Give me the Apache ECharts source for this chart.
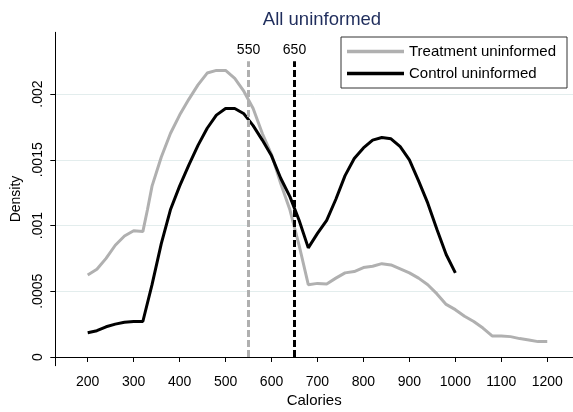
<!DOCTYPE html>
<html><head><meta charset="utf-8">
<script src="https://cdn.jsdelivr.net/npm/echarts@6/dist/echarts.min.js"></script>
<style>html,body{margin:0;padding:0;background:#fff}#c{width:573px;height:412px}</style>
</head><body><div id="c"></div>
<script>
const titleText = 'All uninformed';
const treatName = 'Treatment uninformed';
const controlName = 'Control uninformed';
const treatCal = [200,220,240,260,280,300,320,330,340,360,380,400,420,440,460,480,500,520,540,560,580,600,620,640,660,680,700,720,740,760,780,800,820,840,860,880,900,920,940,960,980,1000,1020,1040,1060,1080,1100,1120,1140,1160,1180,1200];
const treatDen = [0.000624,0.000667,0.00075,0.00085,0.00092,0.00096,0.000954,0.00112,0.0013,0.00152,0.0017,0.00184,0.00196,0.00207,0.00216,0.00218,0.00218,0.00212,0.00202,0.00189,0.0017,0.00154,0.00132,0.00112,0.00085,0.00055,0.00056,0.000556,0.0006,0.00064,0.00065,0.00068,0.00069,0.00071,0.0007,0.00067,0.00064,0.0006,0.00055,0.00048,0.0004,0.00036,0.00031,0.00027,0.00022,0.00016,0.00016,0.000155,0.00014,0.00013,0.000117,0.000117];
const controlCal = [200,220,240,260,280,300,320,340,360,380,400,420,440,460,480,500,520,540,560,580,600,620,640,660,680,700,720,740,760,780,800,820,840,860,880,900,920,940,960,980,1000];
const controlDen = [0.000185,0.0002,0.00023,0.00025,0.000265,0.00027,0.00027,0.00055,0.00086,0.00112,0.0013,0.00146,0.00161,0.00174,0.00184,0.00189,0.00189,0.00185,0.00176,0.00165,0.00153,0.00136,0.00122,0.00104,0.00083,0.00094,0.00104,0.0012,0.00138,0.00151,0.00159,0.00165,0.00167,0.00166,0.0016,0.0015,0.00134,0.00117,0.00097,0.00078,0.00064];
const xTicks = [200,300,400,500,600,700,800,900,1000,1100,1200];
const yTicks = [0,0.0005,0.001,0.0015,0.002];
const yTickLabels = ['0','.0005','.001','.0015','.002'];
const refLines = [550, 650];
const refTop = 0.00225;

const FONT = '"Liberation Sans", Arial, Helvetica, sans-serif';
const zip = (a, b) => a.map((v, i) => [v, b[i]]);
const chart = echarts.init(document.getElementById('c'), null, {renderer: 'canvas'});
const yLabelMap = {};
yTicks.forEach((v, i) => { yLabelMap[v.toFixed(6)] = yTickLabels[i]; });

chart.setOption({
  animation: false,
  backgroundColor: '#fff',
  title: {
    text: titleText, left: 317, top: 5, textAlign: 'center',
    textStyle: {fontFamily: FONT, fontSize: 18.5, fontWeight: 'normal', color: '#1f2d5c'}
  },
  legend: {
    orient: 'vertical', left: 341, top: 37,
    padding: [7, 11, 7, 6], itemGap: 7, itemWidth: 57, itemHeight: 3.5,
    icon: 'rect',
    borderColor: '#333', borderWidth: 1, backgroundColor: '#fff',
    textStyle: {fontFamily: FONT, fontSize: 15, color: '#000', lineHeight: 14},
    data: [treatName, controlName]
  },
  grid: {left: 55.3, right: 0, top: 32.3, bottom: 46.3, containLabel: false, outerBoundsMode: 'none'},
  xAxis: {
    type: 'value', min: 129.5, max: 1256,
    name: 'Calories', nameLocation: 'middle', nameGap: 26,
    nameTextStyle: {fontFamily: FONT, fontSize: 15, color: '#000'},
    axisLine: {show: true, lineStyle: {color: '#000', width: 1}},
    axisTick: {show: true, customValues: xTicks, length: 5, lineStyle: {color: '#000'}},
    axisLabel: {customValues: xTicks, margin: 9, fontFamily: FONT, fontSize: 14, color: '#000',
      formatter: v => String(Math.round(v))},
    splitLine: {show: false}
  },
  yAxis: {
    type: 'value', min: -0.0000662, max: 0.00247,
    name: 'Density', nameLocation: 'middle', nameGap: 30,
    nameTextStyle: {fontFamily: FONT, fontSize: 14, color: '#000'},
    axisLine: {show: true, lineStyle: {color: '#000', width: 1}},
    axisTick: {show: true, customValues: yTicks, length: 5, lineStyle: {color: '#000'}},
    axisLabel: {customValues: yTicks, rotate: 90, margin: 10, fontFamily: FONT, fontSize: 14, color: '#000',
      formatter: v => yLabelMap[Number(v).toFixed(6)] ?? ''},
    splitLine: {show: true, lineStyle: {color: '#e3eded', width: 1}}
  },
  series: [
    {
      name: treatName, type: 'line', data: zip(treatCal, treatDen),
      showSymbol: false, symbol: 'none',
      lineStyle: {color: '#b0b0b0', width: 3}, itemStyle: {color: '#b0b0b0'},
      z: 3,
      markLine: {
        silent: true, symbol: 'none',
        data: [
          [{coord: [refLines[0], 0], lineStyle: {color: '#b0b0b0'}}, {coord: [refLines[0], refTop]}],
          [{coord: [refLines[1], 0], lineStyle: {color: '#000'}}, {coord: [refLines[1], refTop]}]
        ],
        lineStyle: {type: [7, 3], width: 3},
        label: {show: true, position: 'end', distance: 4, formatter: p => String(p.data.coord ? p.data.coord[0] : p.value),
          fontFamily: FONT, fontSize: 14, color: '#000'}
      }
    },
    {
      name: controlName, type: 'line', data: zip(controlCal, controlDen),
      showSymbol: false, symbol: 'none',
      lineStyle: {color: '#000', width: 3}, itemStyle: {color: '#000'},
      z: 4
    }
  ]
});
</script></body></html>
